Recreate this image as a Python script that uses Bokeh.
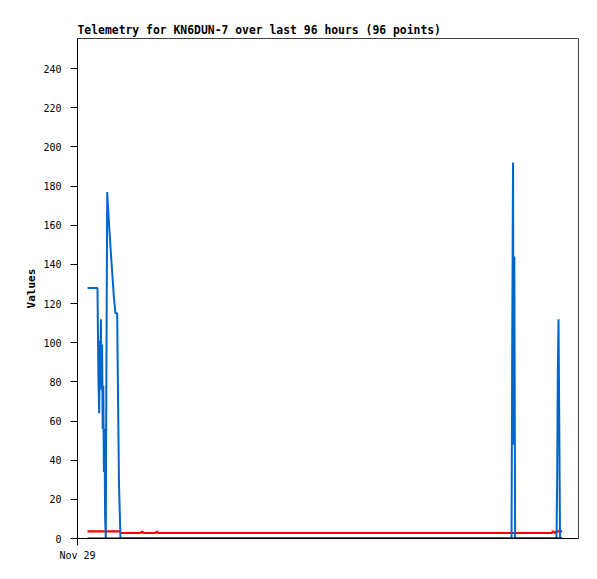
from bokeh.plotting import figure
from bokeh.models import Range1d, FixedTicker
from bokeh.embed import file_html
from bokeh.resources import INLINE

title_text = "Telemetry for KN6DUN-7 over last 96 hours (96 points)"
y_label = "Values"
x_tick_hours = [0]
x_tick_labels = ["Nov 29"]
y_ticks = [0, 20, 40, 60, 80, 100, 120, 140, 160, 180, 200, 220, 240]

# hours since Nov 29 00:00
blue_hours = [2.00, 3.99, 4.05, 4.19, 4.33, 4.45, 4.55, 4.67, 4.79, 4.91, 5.03, 5.15,
              5.27, 5.39, 5.51, 5.65, 5.77, 5.93, 6.05, 6.19, 6.33, 6.49, 6.63, 6.79,
              6.95, 7.11, 7.27, 7.43, 7.58, 7.92, 8.04, 8.28, 8.58,
              86.63, 86.77, 86.93, 87.03, 87.19, 87.35,
              95.61, 95.73, 95.87, 96.01, 96.17, 96.31, 96.75]
blue_values = [128, 128, 112, 80, 64, 101, 80, 112, 76, 99, 56, 78,
               34, 56, 11, 0, 88, 177, 171, 165, 159, 153, 147, 141,
               135, 129, 123, 119, 115, 115, 84, 28, 0,
               0, 97, 192, 48, 144, 0,
               0, 28, 84, 112, 56, 0, 0]

red_hours = [2.00, 8.38, 8.58, 12.57, 12.87, 13.17, 15.57, 15.87, 16.17,
             94.61, 94.91, 95.21, 95.71, 96.75]
red_values = [3.6, 3.6, 2.8, 2.8, 3.6, 2.8, 2.8, 3.6, 2.8,
              2.8, 3.8, 2.8, 3.6, 3.6]

black_hours = [2.00, 96.75]
black_values = [0, 0]

p = figure(width=589, height=571, output_backend="svg", toolbar_location=None,
           x_range=Range1d(0, 100), y_range=Range1d(0, 255.4),
           min_border_left=77, min_border_top=38, min_border_right=11,
           min_border_bottom=33)

p.title.text = title_text
p.title.text_font = "DejaVu Sans Mono"
p.title.text_font_size = "11.4px"
p.title.text_font_style = "bold"
p.title.text_color = "black"
p.title.standoff = 3

p.line(red_hours, red_values, line_color="#FF0000", line_width=2.2)
p.line(blue_hours, blue_values, line_color="#0066CC", line_width=2)
p.line(black_hours, black_values, line_color="#000000", line_width=2.2)

p.xgrid.visible = False
p.ygrid.visible = False
p.outline_line_color = "#404040"
p.outline_line_width = 1
p.background_fill_color = "white"
p.border_fill_color = "white"

p.xaxis.ticker = FixedTicker(ticks=x_tick_hours)
p.xaxis.major_label_overrides = {h: l for h, l in zip(x_tick_hours, x_tick_labels)}
p.yaxis.ticker = FixedTicker(ticks=y_ticks)
p.yaxis.axis_label = y_label

for ax in (p.xaxis[0], p.yaxis[0]):
    ax.major_tick_in = 0
    ax.major_tick_out = 7
    ax.minor_tick_in = 0
    ax.minor_tick_out = 0
    ax.axis_line_color = "black"
    ax.major_tick_line_color = "black"
    ax.major_label_text_font = "DejaVu Sans Mono"
    ax.major_label_text_font_size = "10px"
    ax.major_label_text_color = "black"
    ax.major_label_standoff = 9
    ax.axis_label_text_font = "DejaVu Sans Mono"
    ax.axis_label_text_font_size = "11px"
    ax.axis_label_text_font_style = "bold"
    ax.axis_label_text_color = "black"
    ax.axis_label_standoff = 2

p.xaxis[0].major_label_standoff = 4

open("out.html", "w").write(file_html(p, INLINE))
